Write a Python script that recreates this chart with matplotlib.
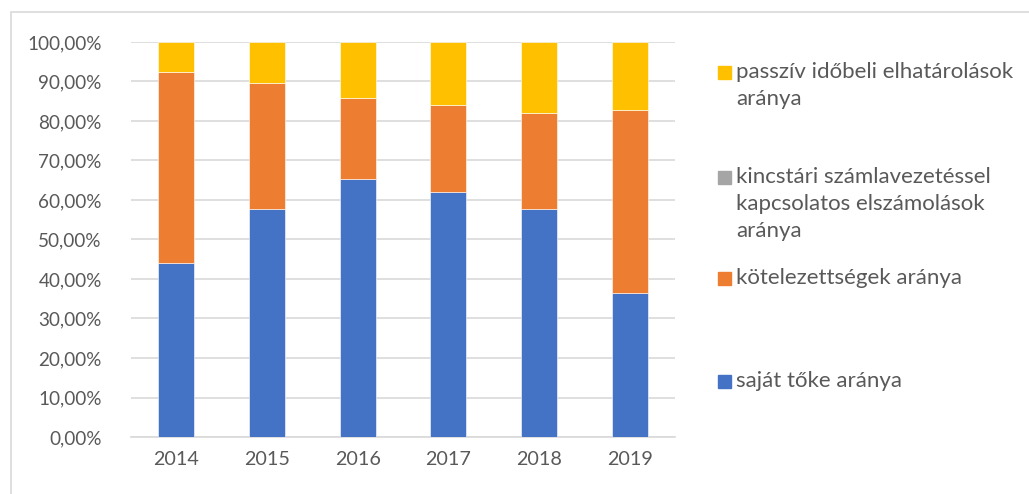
import numpy as np
import matplotlib
matplotlib.use("Agg")
from matplotlib import pyplot as plt
from matplotlib.patches import Rectangle
from matplotlib.ticker import FuncFormatter

years = ["2014", "2015", "2016", "2017", "2018", "2019"]
sajat_toke = [44.0, 57.8, 65.3, 61.9, 57.8, 36.5]
kotelezettsegek = [48.5, 31.7, 20.6, 22.2, 24.2, 46.4]
kincstari = [0.0, 0.0, 0.0, 0.0, 0.0, 0.0]
passziv = [7.5, 10.5, 14.1, 15.9, 18.0, 17.1]

labels = [
    "saját tőke aránya",
    "kötelezettségek aránya",
    "kincstári számlavezetéssel\nkapcsolatos elszámolások\naránya",
    "passzív időbeli elhatárolások\naránya",
]
colors = ["#4472C4", "#ED7D31", "#A5A5A5", "#FFC000"]
text_color = "#595959"
grid_color = "#D9D9D9"

plt.rcParams['font.family'] = ['Lato', 'DejaVu Sans']

fig = plt.figure(figsize=(10.29, 4.94), dpi=100)
W, H = 1029, 494

# outer chart frame
fig.patches.append(Rectangle((11 / W, -0.1), 1.2, 1 - 12 / H + 0.1, transform=fig.transFigure,
                             fill=False, edgecolor=grid_color, linewidth=1.2))

ax = fig.add_axes([131 / W, 1 - 437 / H, (675 - 131) / W, (437 - 42) / H])

x = np.arange(len(years))
series = [sajat_toke, kotelezettsegek, kincstari, passziv]
bottom = np.zeros(len(years))
for vals, c in zip(series, colors):
    v = np.array(vals) / 100
    ax.bar(x, v, 0.4, bottom=bottom, color=c, edgecolor="white", linewidth=0.4, zorder=3)
    bottom += v

ax.set_xlim(-0.5, len(years) - 0.5)
ax.set_ylim(0, 1)
ax.set_yticks(np.arange(0, 1.01, 0.1))
ax.yaxis.set_major_formatter(FuncFormatter(lambda v, p: f"{v * 100:.2f}%".replace(".", ",")))
ax.set_xticks(x)
ax.set_xticklabels(years)
ax.grid(axis="y", color=grid_color, linewidth=1.2, zorder=0)
for s in ["top", "right", "left"]:
    ax.spines[s].set_visible(False)
ax.spines["bottom"].set_color(grid_color)
ax.spines["bottom"].set_linewidth(1.2)
ax.tick_params(axis="y", length=0, pad=21, labelsize=13.6, labelcolor=text_color)
ax.tick_params(axis="x", length=0, pad=10, labelsize=14.2, labelcolor=text_color)

# legend, drawn by hand to match spacing
leg_y = [381, 278, 177, 72]
for lab, c, yy in zip(labels, colors, leg_y):
    fig.patches.append(Rectangle((718 / W, 1 - (yy + 7) / H), 13 / W, 13 / H,
                                 transform=fig.transFigure, color=c))
    fig.text(736 / W, 1 - (yy - 10) / H, lab, fontsize=16, color=text_color,
             va="top", ha="left", linespacing=1.45)

fig.savefig("out.png", dpi=100)
